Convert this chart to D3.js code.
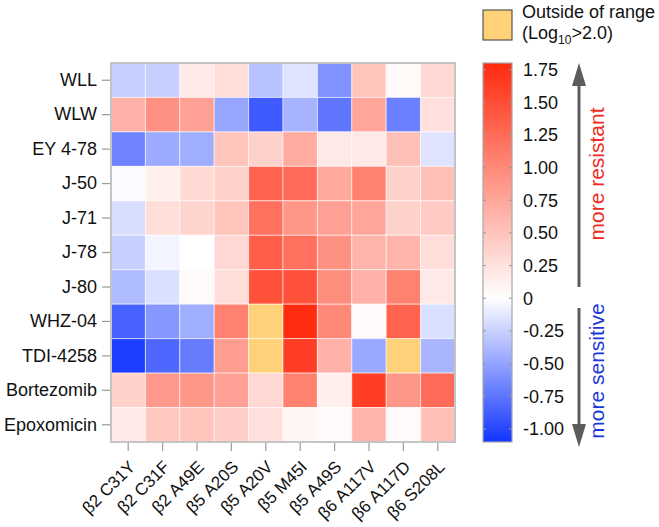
<!DOCTYPE html>
<html><head><meta charset="utf-8">
<script src="https://cdn.jsdelivr.net/npm/d3@7"></script>
<style>
html,body{margin:0;padding:0;background:#fff;}
svg{display:block;font-family:"Liberation Sans",Arial,Helvetica,sans-serif;}
</style></head>
<body><svg id="chart" width="659" height="527"></svg>
<script>
// ---- data ----
const compounds = ["WLL","WLW","EY 4-78","J-50","J-71","J-78","J-80","WHZ-04","TDI-4258","Bortezomib","Epoxomicin"];
const mutants = ["β2 C31Y","β2 C31F","β2 A49E","β5 A20S","β5 A20V","β5 M45I","β5 A49S","β6 A117V","β6 A117D","β6 S208L"];
// log10 fold change; values > 2.0 are outside of range
const rowWLL        = [-0.26,-0.26, 0.18, 0.29,-0.33,-0.15,-0.59, 0.49, 0.05, 0.31];
const rowWLW        = [ 0.66, 0.93, 0.80,-0.48,-0.89,-0.41,-0.74, 0.76,-0.69, 0.26];
const rowEY478      = [-0.67,-0.46,-0.44, 0.49, 0.39, 0.71, 0.19, 0.19, 0.53,-0.15];
const rowJ50        = [-0.02, 0.13, 0.31, 0.39, 1.33, 1.25, 0.73, 1.06, 0.39, 0.53];
const rowJ71        = [-0.18, 0.29, 0.36, 0.49, 1.20, 0.88, 0.80, 0.76, 0.39, 0.44];
const rowJ78        = [-0.26,-0.06, 0.00, 0.33, 1.36, 1.20, 0.93, 0.63, 0.63, 0.29];
const rowJ80        = [-0.37,-0.17, 0.04, 0.29, 1.47, 1.47, 0.96, 0.66, 1.06, 0.19];
const rowWHZ04      = [-0.85,-0.56,-0.44, 1.06, 2.50, 1.78, 1.00, 0.04, 1.33,-0.17];
const rowTDI4258    = [-1.05,-0.82,-0.71, 0.83, 2.50, 1.63, 0.66,-0.47, 2.50,-0.40];
const rowBortezomib = [ 0.39, 0.86, 0.88, 0.80, 0.33, 1.06, 0.13, 1.63, 0.88, 1.25];
const rowEpoxomicin = [ 0.19, 0.46, 0.49, 0.42, 0.26, 0.08, 0.04, 0.63, 0.04, 0.53];
const values = [rowWLL,rowWLW,rowEY478,rowJ50,rowJ71,rowJ78,rowJ80,rowWHZ04,rowTDI4258,rowBortezomib,rowEpoxomicin];
const colorTicks = [1.75,1.50,1.25,1.00,0.75,0.50,0.25,0,-0.25,-0.50,-0.75,-1.00];
const colorTickLabels = ["1.75","1.50","1.25","1.00","0.75","0.50","0.25","0","-0.25","-0.50","-0.75","-1.00"];
const rangeMin = -1.1, rangeMax = 1.8, outsideLimit = 2.0;

// ---- drawing ----
const svg = d3.select("#chart");
const FS = 18;
const hm = {x0:111, x1:455, y0:63, y1:442};

const x = d3.scaleBand().domain(mutants).range([hm.x0, hm.x1]).padding(0);
const y = d3.scaleBand().domain(compounds).range([hm.y0, hm.y1]).padding(0);
const color = d3.scaleLinear().domain([rangeMin,0,rangeMax]).range(["#1234ff","#ffffff","#ff2a0e"]).clamp(true);
const outsideColor = "#ffd27a";

const cells = [];
values.forEach((row,i)=>row.forEach((v,j)=>cells.push({r:compounds[i], c:mutants[j], v})));

svg.append("g").selectAll("rect").data(cells).join("rect")
  .attr("x", d=>x(d.c)).attr("y", d=>y(d.r))
  .attr("width", x.bandwidth()).attr("height", y.bandwidth())
  .attr("fill", d=> d.v > outsideLimit ? outsideColor : color(d.v))
  .attr("stroke", "rgba(255,255,255,0.55)").attr("stroke-width", 1);

svg.append("rect").attr("x",hm.x0).attr("y",hm.y0)
  .attr("width",hm.x1-hm.x0).attr("height",hm.y1-hm.y0)
  .attr("fill","none").attr("stroke","#c4c4c4").attr("stroke-width",2);

// y axis
const yAxis = d3.axisLeft(y).tickSize(8).tickPadding(5);
const gy = svg.append("g").attr("transform",`translate(${hm.x0-1},0)`).call(yAxis);
gy.select(".domain").remove();
gy.selectAll(".tick line").attr("stroke","#9a9a9a").attr("stroke-width",1.2);
gy.selectAll("text").attr("font-size",FS).attr("fill","#111").attr("font-family","Liberation Sans, Arial, sans-serif");

// x axis
const xAxis = d3.axisBottom(x).tickSize(8);
const gx = svg.append("g").attr("transform",`translate(0,${hm.y1+1})`).call(xAxis);
gx.select(".domain").remove();
gx.selectAll(".tick line").attr("stroke","#9a9a9a").attr("stroke-width",1.2);
gx.selectAll("text")
  .attr("font-size",17).attr("fill","#111").attr("font-family","Liberation Sans, Arial, sans-serif")
  .attr("text-anchor","end").attr("dy",null).attr("y",null)
  .attr("transform","translate(8,25) rotate(-45)");

// color bar
const cb = {x:483, w:29, y0:63, y1:442};
const cy = d3.scaleLinear().domain([rangeMin,rangeMax]).range([cb.y1,cb.y0]);
const defs = svg.append("defs");
const grad = defs.append("linearGradient").attr("id","cbgrad")
  .attr("x1",0).attr("y1",1).attr("x2",0).attr("y2",0);
[rangeMin,0,rangeMax].forEach(v=>{
  grad.append("stop").attr("offset",(v-rangeMin)/(rangeMax-rangeMin)).attr("stop-color",color(v));
});
svg.append("rect").attr("x",cb.x).attr("y",cb.y0).attr("width",cb.w).attr("height",cb.y1-cb.y0)
  .attr("fill","url(#cbgrad)").attr("stroke","#a8a8a8").attr("stroke-width",1.2);
const cbTicks = svg.append("g");
colorTicks.forEach((t,i)=>{
  const yy = cy(t);
  cbTicks.append("line").attr("x1",cb.x).attr("x2",cb.x+3).attr("y1",yy).attr("y2",yy).attr("stroke","#999");
  cbTicks.append("line").attr("x1",cb.x+cb.w-3).attr("x2",cb.x+cb.w).attr("y1",yy).attr("y2",yy).attr("stroke","#999");
  cbTicks.append("text").attr("x",cb.x+40).attr("y",yy).attr("dy","0.36em")
    .attr("font-size",FS).attr("fill","#111").text(colorTickLabels[i]);
});

// outside-of-range legend
svg.append("rect").attr("x",483).attr("y",10).attr("width",29).attr("height",30)
  .attr("fill",outsideColor).attr("stroke","#555").attr("stroke-width",1.2);
svg.append("text").attr("x",522).attr("y",18).attr("font-size",FS).attr("fill","#111").text("Outside of range");
const t2 = svg.append("text").attr("x",522).attr("y",39).attr("font-size",FS).attr("fill","#111");
t2.append("tspan").text("(Log");
t2.append("tspan").attr("font-size",12).attr("dy",5).text("10");
t2.append("tspan").attr("dy",-5).text(">2.0)");

// arrows
const ax = 579, arrowCol = "#5c5c5c";
svg.append("line").attr("x1",ax).attr("x2",ax).attr("y1",287).attr("y2",80)
  .attr("stroke",arrowCol).attr("stroke-width",3);
svg.append("path").attr("d",`M${ax},63 L${ax-7},86 L${ax+7},86 Z`).attr("fill",arrowCol);
svg.append("line").attr("x1",ax).attr("x2",ax).attr("y1",308).attr("y2",430)
  .attr("stroke",arrowCol).attr("stroke-width",3);
svg.append("path").attr("d",`M${ax},447 L${ax-7},424 L${ax+7},424 Z`).attr("fill",arrowCol);

svg.append("text").attr("transform","translate(604,174) rotate(-90)")
  .attr("text-anchor","middle").attr("font-size",21).attr("fill","#ee2a24").text("more resistant");
svg.append("text").attr("transform","translate(604,371) rotate(-90)")
  .attr("text-anchor","middle").attr("font-size",21).attr("fill","#1a3ad8").text("more sensitive");
</script></body></html>
